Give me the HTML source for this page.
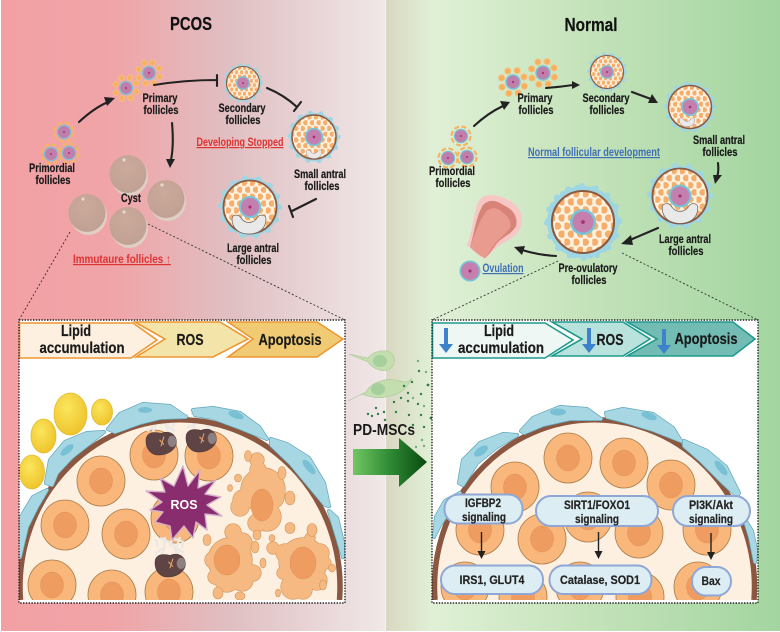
<!DOCTYPE html>
<html lang="en"><head><meta charset="utf-8"><title>PCOS vs Normal follicular development</title>
<style>
html,body{margin:0;padding:0;background:#fff;width:780px;height:632px;overflow:hidden}
svg{display:block}
text{font-family:"Liberation Sans",sans-serif;font-weight:bold;text-anchor:middle;fill:#1a1a1a}
.l{font-size:12px;stroke:#1a1a1a;stroke-width:.2}
.t{font-size:18px;fill:#111;stroke:#111;stroke-width:.2}
.c{font-size:16px;stroke:#1a1a1a;stroke-width:.2}
.b{font-size:12px;fill:#222;stroke:#222;stroke-width:.2}
.r{font-size:12px;fill:#dd3333;text-decoration:underline}
.n{font-size:12px;fill:#3f6fb5;text-decoration:underline}
.cell{fill:#f9b77c;stroke:#a87a45;stroke-width:.8}
.nuc{fill:#ee9c60;stroke:#d98c50;stroke-width:.4}
.bo{fill:#5fa6ba;stroke:#5fa6ba;stroke-width:4;stroke-linejoin:round}
.bi{fill:#a6d7e3;stroke:#a6d7e3;stroke-width:2.6;stroke-linejoin:round}
.bn{fill:#79c0d5}
.arr{fill:none;stroke:#222;stroke-width:2.1;stroke-linecap:round}
.dash{fill:none;stroke:#333;stroke-width:.9;stroke-dasharray:2 2}
.sp{fill:#f6b982;stroke:#cf965c;stroke-width:.6}
.bub{fill:#dcedf3;stroke:#8fa7d6;stroke-width:2}
</style></head><body>
<svg width="780" height="632" viewBox="0 0 780 632" xmlns="http://www.w3.org/2000/svg">
<defs>
<linearGradient id="lg"><stop offset="0" stop-color="#f2a0a4"/><stop offset=".3" stop-color="#f0a5a8"/><stop offset=".6" stop-color="#e0bfc2"/><stop offset="1" stop-color="#f0e8e8"/></linearGradient>
<linearGradient id="rg"><stop offset="0" stop-color="#dad8c2"/><stop offset=".12" stop-color="#e0f0d6"/><stop offset=".5" stop-color="#c5e3bb"/><stop offset="1" stop-color="#a3d5a0"/></linearGradient>
<linearGradient id="ag"><stop offset="0" stop-color="#72c763"/><stop offset=".5" stop-color="#2f8a35"/><stop offset="1" stop-color="#0a4a0e"/></linearGradient>
<radialGradient id="cy" cx=".45" cy=".35" r=".7"><stop offset="0" stop-color="#cbaa9c"/><stop offset="1" stop-color="#c0a092"/></radialGradient>
<radialGradient id="ye" cx=".4" cy=".35" r=".7"><stop offset="0" stop-color="#fbe65d"/><stop offset="1" stop-color="#eec22a"/></radialGradient>
<pattern id="cells" width="15" height="26" patternUnits="userSpaceOnUse">
<rect width="15" height="26" fill="#fdf3e2"/>
<circle cx="3.75" cy="6.500" r="6" fill="#f6ae6c"/><circle cx="11.25" cy="19.500" r="6" fill="#f6ae6c"/>
</pattern>
<g id="fol">
<circle r="55" fill="#9fd6e3"/>
<circle r="55" fill="none" stroke="#9fd6e3" stroke-width="11" stroke-linecap="round" stroke-dasharray="0 25"/>
<circle r="50" fill="url(#cells)" stroke="#8a5a42" stroke-width="3.400"/>
<circle r="21" fill="#76c4d6"/><circle r="17" fill="#c47fae"/><circle r="3" fill="#a23273"/>
</g>
<g id="prim">
<circle r="9.500" fill="none" stroke="#f5b560" stroke-width="2.200" stroke-dasharray="5 2.5"/>
<circle r="7.200" fill="#7cc0d6"/><circle r="6" fill="#bf7faa"/><circle r="1" fill="#a23273"/>
</g>
<g id="pri">
<g fill="#f8b060" stroke="#f3c27d" stroke-width=".8">
<circle cx="0" cy="-11" r="2.800" transform="rotate(20)"/><circle cx="0" cy="-11" r="2.800" transform="rotate(65)"/><circle cx="0" cy="-11" r="2.800" transform="rotate(110)"/><circle cx="0" cy="-11" r="2.800" transform="rotate(155)"/><circle cx="0" cy="-11" r="2.800" transform="rotate(200)"/><circle cx="0" cy="-11" r="2.800" transform="rotate(245)"/><circle cx="0" cy="-11" r="2.800" transform="rotate(290)"/><circle cx="0" cy="-11" r="2.800" transform="rotate(335)"/>
</g>
<circle r="7" fill="#7cc0d6"/><circle r="5.700" fill="#bf7faa"/><circle r="1" fill="#a23273"/>
</g>
<path id="ant" d="M-17,-5C-17,-10 -10,-10 -8,-6C-4,0 4,0 8,-6C10,-10 17,-10 17,-5C17,6 8,10 0,10C-8,10 -17,6 -17,-5Z" fill="#e9e9e9" stroke="#6f5f52" stroke-width=".7"/>
<g id="cyst">
<ellipse cx="1.500" cy="2.500" rx="18.500" ry="19.500" fill="#e0cfc5"/>
<ellipse rx="18.500" ry="19" fill="url(#cy)"/>
<circle cx="-4" cy="-14" r="1.600" fill="#e8d9d0"/>
</g>
<g id="cell"><ellipse rx="24" ry="25" class="cell"/><ellipse rx="11.500" ry="13" class="nuc"/></g>
<g id="mito">
<path d="M-12,-18l-2,-8M-6,-16l1,-12M0,-18l3,-12M6,-16l4,-12M12,-16l1,-8M-10,-27l7,3M4,-26l8,2M-8,-11l3,-9M8,-9l-4,-11M-14,-12l9,-6M14,-12l-8,-5M-3,-24l7,4" stroke="#ece8e4" stroke-width="2.400" fill="none"/>
<g transform="scale(.74,.8)">
<path d="M-20,-6C-18,-14 -8,-14 0,-12C10,-16 20,-12 21,-2C21,9 8,15 -2,15C-14,16 -22,6 -20,-6Z" fill="#5e4444" stroke="#3d2c2c" stroke-width=".6"/>
<ellipse cx="15" cy="-2" rx="6" ry="7" fill="#8d8080"/>
<path d="M-2,-4l6,6M4,-8l-4,12" stroke="#e6a56a" stroke-width="1.400" fill="none"/>
</g>
</g>
<g id="dn"><path d="M-2,0H2V16H7L0,25L-7,16H-2Z" fill="#3d82cb"/></g>
<g id="a1"><circle cx="257" cy="460" r="7"/><circle cx="258" cy="470" r="8"/><circle cx="263" cy="490" r="22"/><circle cx="243" cy="500" r="10"/><circle cx="240" cy="507" r="9"/><circle cx="272" cy="497" r="12"/><circle cx="279" cy="492" r="6"/><circle cx="267" cy="517" r="14"/><circle cx="257" cy="523" r="9"/></g>
<g id="a2"><circle cx="233" cy="532" r="8"/><circle cx="230" cy="560" r="22"/><circle cx="213" cy="560" r="8"/><circle cx="242" cy="543" r="10"/><circle cx="253" cy="573" r="8"/><circle cx="242" cy="580" r="11"/><circle cx="227" cy="580" r="12"/><circle cx="215" cy="577" r="7"/></g>
<g id="a3"><circle cx="303" cy="562" r="24"/><circle cx="273" cy="548" r="6"/><circle cx="285" cy="553" r="9"/><circle cx="310" cy="538" r="5"/><circle cx="320" cy="553" r="9"/><circle cx="325" cy="563" r="6"/><circle cx="317" cy="580" r="10"/><circle cx="293" cy="587" r="12"/><circle cx="303" cy="590" r="9"/><circle cx="283" cy="573" r="6"/></g>
<clipPath id="cl"><rect x="19" y="320" width="326" height="280"/></clipPath>
<clipPath id="cr"><rect x="432" y="320" width="326" height="280"/></clipPath>
</defs>

<rect width="780" height="632" fill="#fff"/>
<rect x="1" y="0" width="384.500" height="631" fill="url(#lg)"/>
<rect x="386" y="0" width="394" height="631" fill="url(#rg)"/>

<!-- titles -->
<text x="191" y="30" class="t" textLength="42" lengthAdjust="spacingAndGlyphs">PCOS</text>
<text x="591" y="31" class="t" textLength="53" lengthAdjust="spacingAndGlyphs">Normal</text>

<!-- PCOS follicles -->
<use href="#prim" x="64" y="132"/><use href="#prim" x="51" y="154"/><use href="#prim" x="69" y="153"/>
<use href="#pri" x="126" y="88"/><use href="#pri" x="149" y="73"/>
<use href="#fol" transform="translate(243,83) scale(.33)"/>
<use href="#fol" transform="translate(314,137) scale(.44)"/>
<use href="#ant" transform="translate(314,154) scale(.46)"/>
<use href="#fol" transform="translate(250,207) scale(.53)"/>
<use href="#ant" transform="translate(249,224) scale(1)"/>
<use href="#cyst" x="128" y="174"/><use href="#cyst" x="166" y="199"/><use href="#cyst" x="87" y="213"/><use href="#cyst" x="128" y="226"/>

<!-- PCOS connectors -->
<path class="arr" d="M79,122Q94,108 108,102"/><path d="M104,97L115,98L107,106Z" fill="#222"/>
<path class="arr" d="M154,85Q185,80 216,80M217,75V86"/>
<path class="arr" d="M267,88Q284,95 297,107M301,102L294,111"/>
<path class="arr" d="M316,199L292,211M289,206L293,217"/>
<path class="arr" d="M172,123Q174,145 171,160"/><path d="M166,159H175L170,168Z" fill="#222"/>

<!-- PCOS labels -->
<text x="160" y="102" class="l" textLength="35" lengthAdjust="spacingAndGlyphs">Primary</text>
<text x="161" y="114" class="l" textLength="35" lengthAdjust="spacingAndGlyphs">follicles</text>
<text x="242" y="112" class="l" textLength="47" lengthAdjust="spacingAndGlyphs">Secondary</text>
<text x="243" y="124" class="l" textLength="35" lengthAdjust="spacingAndGlyphs">follicles</text>
<text x="52" y="172" class="l" textLength="46" lengthAdjust="spacingAndGlyphs">Primordial</text>
<text x="53" y="184" class="l" textLength="35" lengthAdjust="spacingAndGlyphs">follicles</text>
<text x="320" y="178" class="l" textLength="52" lengthAdjust="spacingAndGlyphs">Small antral</text>
<text x="322" y="190" class="l" textLength="35" lengthAdjust="spacingAndGlyphs">follicles</text>
<text x="253" y="252" class="l" textLength="52" lengthAdjust="spacingAndGlyphs">Large antral</text>
<text x="254" y="264" class="l" textLength="35" lengthAdjust="spacingAndGlyphs">follicles</text>
<text x="131" y="202" class="l" textLength="20" lengthAdjust="spacingAndGlyphs">Cyst</text>
<text x="240" y="146" class="r" textLength="87" lengthAdjust="spacingAndGlyphs">Developing Stopped</text>
<text x="122" y="263" class="r" textLength="98" lengthAdjust="spacingAndGlyphs">Immutaure follicles  ↑</text>

<!-- Normal follicles -->
<use href="#prim" x="461" y="136"/><use href="#prim" x="448" y="158"/><use href="#prim" x="467" y="157"/>
<use href="#pri" transform="translate(513,82) scale(1.1)"/><use href="#pri" transform="translate(543,73) scale(1.1)"/>
<use href="#fol" transform="translate(607,72) scale(.33)"/>
<use href="#fol" transform="translate(690,107) scale(.43)"/>
<use href="#ant" transform="translate(687,122) scale(.46)"/>
<use href="#fol" transform="translate(680,196) scale(.55)"/>
<use href="#ant" transform="translate(680,213) scale(1.05)"/>
<circle cx="583" cy="222" r="36" fill="#9fd6e3"/>
<circle cx="583" cy="222" r="36" fill="none" stroke="#9fd6e3" stroke-width="6" stroke-linecap="round" stroke-dasharray="0 14"/>
<use href="#fol" transform="translate(583,222) scale(.62)"/>
<path d="M467,245C472,235 474,212 478,202C484,192 498,194 508,200C518,204 524,214 521,226C518,238 506,240 497,247C491,252 488,256 485,259C480,257 474,251 467,245Z" fill="#f7c7c6"/>
<path d="M470,247C474,235 476,216 483,205C490,198 498,201 505,206C514,210 518,218 516,226C512,234 504,236 497,243C492,250 489,255 485,258C480,256 474,251 470,247Z" fill="#d88378"/>
<path d="M470,247C474,238 478,222 486,212C492,206 498,208 503,213C508,216 512,222 510,228C504,236 497,240 492,248C489,253 487,256 485,258C480,256 474,251 470,247Z" fill="#ea9b8f"/>
<circle cx="470" cy="271" r="10.500" fill="#76c4d6"/><circle cx="470" cy="271" r="8.800" fill="#c47fae"/><circle cx="470" cy="271" r="1.600" fill="#a23273"/>

<!-- Normal connectors -->
<path class="arr" d="M474,126Q488,113 503,106"/><path d="M500,101L510,102L504,110Z" fill="#222"/>
<path class="arr" d="M546,88Q560,87 573,85"/><path d="M572,81L580,85L572,89Z" fill="#222"/>
<path class="arr" d="M632,92L651,99"/><path d="M652,94L658,103L648,103Z" fill="#222"/>
<path class="arr" d="M718,163Q719,172 717,177"/><path d="M713,175H722L715,184Z" fill="#222"/>
<path class="arr" d="M658,228L630,240"/><path d="M631,235L621,244L633,245Z" fill="#222"/>
<path class="arr" d="M556,256Q538,255 522,250"/><path d="M525,246L514,247L522,255Z" fill="#222"/>

<!-- Normal labels -->
<text x="535" y="102" class="l" textLength="35" lengthAdjust="spacingAndGlyphs">Primary</text>
<text x="536" y="114" class="l" textLength="35" lengthAdjust="spacingAndGlyphs">follicles</text>
<text x="606" y="102" class="l" textLength="47" lengthAdjust="spacingAndGlyphs">Secondary</text>
<text x="607" y="114" class="l" textLength="35" lengthAdjust="spacingAndGlyphs">follicles</text>
<text x="719" y="144" class="l" textLength="52" lengthAdjust="spacingAndGlyphs">Small antral</text>
<text x="720" y="156" class="l" textLength="35" lengthAdjust="spacingAndGlyphs">follicles</text>
<text x="452" y="175" class="l" textLength="46" lengthAdjust="spacingAndGlyphs">Primordial</text>
<text x="453" y="187" class="l" textLength="35" lengthAdjust="spacingAndGlyphs">follicles</text>
<text x="685" y="243" class="l" textLength="52" lengthAdjust="spacingAndGlyphs">Large antral</text>
<text x="686" y="255" class="l" textLength="35" lengthAdjust="spacingAndGlyphs">follicles</text>
<text x="588" y="272" class="l" textLength="59" lengthAdjust="spacingAndGlyphs">Pre-ovulatory</text>
<text x="589" y="284" class="l" textLength="35" lengthAdjust="spacingAndGlyphs">follicles</text>
<text x="594" y="156" class="n" textLength="132" lengthAdjust="spacingAndGlyphs">Normal follicular development</text>
<text x="503" y="272" class="n" textLength="41" lengthAdjust="spacingAndGlyphs">Ovulation</text>

<!-- dashed zoom lines -->
<path class="dash" d="M70,232L19,320M148,224L345,320M558,261L432,320M622,253L758,320"/>

<!-- LEFT INSET -->
<rect x="19" y="320" width="326" height="283" fill="#fff"/>
<g clip-path="url(#cl)">
<path d="M19.500,600A161,168 0 1 1 340.500,600Z" fill="#fdf0e1"/>
<use href="#cell" x="101" y="481"/><use href="#cell" x="65" y="525"/><use href="#cell" x="126" y="534"/>
<use href="#cell" x="154" y="455"/><use href="#cell" x="209" y="456"/><use href="#cell" x="175" y="518"/>
<use href="#cell" x="52" y="585"/><use href="#cell" x="112" y="595"/><use href="#cell" x="169" y="592"/>
<!-- apoptotic cells -->
<use href="#a1" fill="#cf965c" stroke="#cf965c" stroke-width="1.200"/><use href="#a1" fill="#f6b982"/>
<ellipse cx="262" cy="505" rx="11" ry="16" class="nuc"/>
<use href="#a2" fill="#cf965c" stroke="#cf965c" stroke-width="1.200"/><use href="#a2" fill="#f6b982"/>
<ellipse cx="227" cy="560" rx="13" ry="15" class="nuc"/>
<use href="#a3" fill="#cf965c" stroke="#cf965c" stroke-width="1.200"/><use href="#a3" fill="#f6b982"/>
<ellipse cx="303" cy="563" rx="13" ry="16" class="nuc"/>
<ellipse cx="248" cy="456" rx="3.500" ry="5.500" class="sp"/><ellipse cx="282" cy="473" rx="4" ry="6.500" class="sp"/><ellipse cx="238" cy="478" rx="3.500" ry="4" class="sp"/><ellipse cx="230" cy="488" rx="2.500" ry="3.500" class="sp"/><ellipse cx="290" cy="498" rx="5" ry="7" class="sp"/><ellipse cx="290" cy="528" rx="5" ry="5.500" class="sp"/><ellipse cx="312" cy="530" rx="5" ry="6.500" class="sp"/><ellipse cx="207" cy="540" rx="4" ry="5.500" class="sp"/><ellipse cx="257" cy="535" rx="4" ry="5" class="sp"/><ellipse cx="272" cy="538" rx="3" ry="3.500" class="sp"/><ellipse cx="255" cy="547" rx="4" ry="6" class="sp"/><ellipse cx="263" cy="563" rx="3" ry="5" class="sp"/><ellipse cx="218" cy="593" rx="5" ry="6" class="sp"/><ellipse cx="240" cy="596" rx="5" ry="4" class="sp"/><ellipse cx="332" cy="568" rx="3.500" ry="4" class="sp"/><ellipse cx="323" cy="585" rx="3.500" ry="5" class="sp"/><ellipse cx="278" cy="593" rx="2.500" ry="4" class="sp"/>
<use href="#mito" x="161" y="443"/><use href="#mito" x="201" y="440"/><use href="#mito" x="170" y="565"/>
<path d="M183,466L188,486L200,470L198,488L216,480L205,494L221,497L207,505L222,516L205,514L207,530L196,522L193,538L184,526L172,540L170,526L155,522L163,512L150,510L162,502L146,491L165,492L160,478L174,486Z" fill="#892d6f" stroke="#d5b0cb" stroke-width="1.400" stroke-linejoin="round"/>
<path d="M20.500,600A160,167 0 1 1 339.500,600" fill="none" stroke="#8b5740" stroke-width="5.500"/>
<!-- theca cells -->
<polygon class="bo" points="20,557 21,517 33,497 47,490 37,507 27,527"/><polygon class="bi" points="20,557 21,517 33,497 47,490 37,507 27,527"/>
<polygon class="bo" points="46,483 50,460 65,442 87,433 104,432 90,443 72,457 57,473 52,485"/><polygon class="bi" points="46,483 50,460 65,442 87,433 104,432 90,443 72,457 57,473 52,485"/>
<ellipse cx="67" cy="450" rx="8" ry="3.500" transform="rotate(-40 67 450)" class="bn"/>
<polygon class="bo" points="108,429 120,414 143,404 170,406 186,417 160,418 140,423 115,432"/><polygon class="bi" points="108,429 120,414 143,404 170,406 186,417 160,418 140,423 115,432"/>
<ellipse cx="145" cy="410" rx="7" ry="3" class="bn"/>
<polygon class="bo" points="193,410 213,408 240,413 259,427 267,439 240,428 213,418 195,415"/><polygon class="bi" points="193,410 213,408 240,413 259,427 267,439 240,428 213,418 195,415"/>
<ellipse cx="236" cy="415" rx="8" ry="3.500" transform="rotate(20 236 415)" class="bn"/>
<polygon class="bo" points="271,439 287,444 309,458 324,483 329,506 325,505 310,487 290,463 271,445"/><polygon class="bi" points="271,439 287,444 309,458 324,483 329,506 325,505 310,487 290,463 271,445"/>
<ellipse cx="309" cy="467" rx="9" ry="3.500" transform="rotate(50 309 467)" class="bn"/>
<polygon class="bo" points="329,511 337,518 343,543 343,557 337,537"/><polygon class="bi" points="329,511 337,518 343,543 343,557 337,537"/>
</g>
<ellipse cx="70.500" cy="414" rx="16.500" ry="21" fill="url(#ye)" stroke="#e2bb2e" stroke-width=".8"/>
<ellipse cx="43.500" cy="436" rx="12.500" ry="17" fill="url(#ye)" stroke="#e2bb2e" stroke-width=".8"/>
<ellipse cx="102" cy="412" rx="10.500" ry="13" fill="url(#ye)" stroke="#e2bb2e" stroke-width=".8"/>
<ellipse cx="32" cy="472" rx="12.500" ry="17" fill="url(#ye)" stroke="#e2bb2e" stroke-width=".8"/>
<text x="184" y="509" style="fill:#fff;font-size:13px" textLength="27" lengthAdjust="spacingAndGlyphs">ROS</text>

<!-- left chevrons -->
<path d="M228,322H317L343,339L317,357H228L253,339Z" fill="#f1cb74" stroke="#ee9630" stroke-width="1.600"/>
<path d="M135,322H220L248,339L213,357H136L165,339Z" fill="#f3e5a9" stroke="#ee9630" stroke-width="1.600"/>
<path d="M19.500,323H133L157,340L131,358H19.500Z" fill="#fdf0e0" stroke="#ee9630" stroke-width="1.600"/>
<text x="76" y="336" class="c" textLength="30" lengthAdjust="spacingAndGlyphs">Lipid</text>
<text x="82" y="353" class="c" textLength="85" lengthAdjust="spacingAndGlyphs">accumulation</text>
<text x="190" y="345" class="c" textLength="27" lengthAdjust="spacingAndGlyphs">ROS</text>
<text x="290" y="345" class="c" textLength="63" lengthAdjust="spacingAndGlyphs">Apoptosis</text>
<rect x="19" y="320" width="326" height="283" fill="none" stroke="#222" stroke-width="1.400" stroke-dasharray="1.4 1.4"/>

<!-- MIDDLE -->
<path d="M349,354L368,358C372,352 382,349 390,352C396,356 396,366 388,370C380,372 372,368 368,362Z" fill="#c5deb0" stroke="#a8c796" stroke-width=".6"/>
<ellipse cx="380" cy="361" rx="7" ry="6" fill="#a5cf9d"/>
<path d="M348,401L366,392C370,384 382,378 395,380C402,382 408,384 412,378C408,386 402,394 390,396C378,400 368,396 362,394Z" fill="#c5deb0" stroke="#a8c796" stroke-width=".6"/>
<ellipse cx="378" cy="389" rx="7" ry="6" fill="#a5cf9d"/>
<g fill="#2f7f45">
<circle cx="376" cy="408" r="1.200"/><circle cx="368" cy="414" r="1.200"/><circle cx="378" cy="414" r="1.200"/><circle cx="384" cy="412" r="1.200"/><circle cx="372" cy="416" r="1.200"/><circle cx="385" cy="420" r="1.200"/><circle cx="394" cy="402" r="1.200"/><circle cx="396" cy="412" r="1.200"/><circle cx="401" cy="398" r="1.200"/><circle cx="408" cy="401" r="1.200"/><circle cx="419" cy="371" r="1.200"/><circle cx="412" cy="382" r="1.200"/><circle cx="404" cy="386" r="1.200"/><circle cx="408" cy="393" r="1.200"/><circle cx="421" cy="394" r="1.200"/><circle cx="418" cy="404" r="1.200"/><circle cx="428" cy="385" r="1.400"/><circle cx="431" cy="418" r="1.400"/><circle cx="421" cy="415" r="1.200"/><circle cx="409" cy="415" r="1.200"/><circle cx="413" cy="425" r="1.200"/><circle cx="424" cy="427" r="1.200"/>
</g>
<g fill="#6fb07f"><circle cx="418" cy="361" r="1.200"/><circle cx="426" cy="372" r="1.200"/><circle cx="413" cy="398" r="1.200"/><circle cx="424" cy="406" r="1.200"/><circle cx="422" cy="440" r="1.200"/><circle cx="424" cy="446" r="1.200"/><circle cx="416" cy="447" r="1.200"/></g>
<text x="384" y="435" style="font-size:16px" textLength="62" lengthAdjust="spacingAndGlyphs">PD-MSCs</text>
<path d="M353,449H399V438L427,462L399,487V475H353Z" fill="url(#ag)"/>

<!-- RIGHT INSET -->
<rect x="432" y="320" width="326" height="283" fill="#fff"/>
<g clip-path="url(#cr)">
<path d="M434,600A161,168 0 1 1 755,600Z" fill="#fdf0e1"/>
<use href="#cell" x="568" y="458"/><use href="#cell" x="624" y="463"/><use href="#cell" x="515" y="487"/><use href="#cell" x="671" y="485"/>
<use href="#cell" x="480" y="530"/><use href="#cell" x="542" y="539"/><use href="#cell" x="588" y="517"/><use href="#cell" x="639" y="533"/><use href="#cell" x="707" y="530"/>
<use href="#cell" x="465" y="587"/><use href="#cell" x="523" y="597"/><use href="#cell" x="580" y="587"/><use href="#cell" x="640" y="597"/><use href="#cell" x="698" y="587"/>
<path d="M435,600A160,167 0 1 1 754,600" fill="none" stroke="#8b5740" stroke-width="5.500"/>
<polygon class="bo" points="434,537 436,517 445,501 460,493 450,510 440,525"/><polygon class="bi" points="434,537 436,517 445,501 460,493 450,510 440,525"/>
<polygon class="bo" points="459,483 463,460 480,443 503,434 517,435 497,447 477,463 463,485"/><polygon class="bi" points="459,483 463,460 480,443 503,434 517,435 497,447 477,463 463,485"/>
<ellipse cx="481" cy="451" rx="8" ry="4" transform="rotate(-35 481 451)" class="bn"/>
<polygon class="bo" points="521,431 533,418 560,407 587,409 601,419 570,419 543,425 524,433"/><polygon class="bi" points="521,431 533,418 560,407 587,409 601,419 570,419 543,425 524,433"/>
<ellipse cx="558" cy="412" rx="8" ry="3.500" class="bn"/>
<polygon class="bo" points="606,413 623,409 653,414 673,428 681,441 653,430 623,421 607,417"/><polygon class="bi" points="606,413 623,409 653,414 673,428 681,441 653,430 623,421 607,417"/>
<ellipse cx="649" cy="416" rx="8" ry="3.500" transform="rotate(20 649 416)" class="bn"/>
<polygon class="bo" points="684,441 707,451 726,467 739,493 737,496 720,480 700,460 684,446"/><polygon class="bi" points="684,441 707,451 726,467 739,493 737,496 720,480 700,460 684,446"/>
<ellipse cx="721" cy="468" rx="9" ry="3.500" transform="rotate(50 721 468)" class="bn"/>
<polygon class="bo" points="744,518 752,531 756,550 755,562 750,537"/><polygon class="bi" points="744,518 752,531 756,550 755,562 750,537"/>
</g>
<!-- signalling bubbles -->
<rect x="444.500" y="494.500" width="78" height="29" rx="14" class="bub"/>
<rect x="536" y="496" width="122" height="30" rx="15" class="bub"/>
<rect x="673" y="496" width="77" height="30" rx="15" class="bub"/>
<rect x="441" y="565.500" width="102" height="28.500" rx="14" class="bub"/>
<rect x="549.500" y="565.500" width="102" height="28.500" rx="14" class="bub"/>
<rect x="692" y="567" width="39" height="28.500" rx="14" class="bub"/>
<text x="483" y="507" class="b" textLength="36" lengthAdjust="spacingAndGlyphs">IGFBP2</text>
<text x="484" y="521" class="b" textLength="44" lengthAdjust="spacingAndGlyphs">signaling</text>
<text x="597" y="509" class="b" textLength="66" lengthAdjust="spacingAndGlyphs">SIRT1/FOXO1</text>
<text x="597" y="523" class="b" textLength="44" lengthAdjust="spacingAndGlyphs">signaling</text>
<text x="711" y="509" class="b" textLength="44" lengthAdjust="spacingAndGlyphs">PI3K/Akt</text>
<text x="711" y="523" class="b" textLength="44" lengthAdjust="spacingAndGlyphs">signaling</text>
<text x="492" y="584" class="b" textLength="65" lengthAdjust="spacingAndGlyphs">IRS1, GLUT4</text>
<text x="600" y="584" class="b" textLength="80" lengthAdjust="spacingAndGlyphs">Catalase, SOD1</text>
<text x="711" y="585" class="b" textLength="19" lengthAdjust="spacingAndGlyphs">Bax</text>
<path d="M481.500,532V553M598.500,532V553M711,533V553" stroke="#222" stroke-width="1.400" fill="none"/>
<path d="M477.500,551H485.500L481.500,559ZM594.500,551H602.500L598.500,559ZM707,552H715L711,560Z" fill="#222"/>

<!-- right chevrons -->
<path d="M627,322H733L755,339L733,356H627L657,339Z" fill="#72bcb4" stroke="#1e9a8e" stroke-width="1.600"/>
<path d="M552,322H623L650,339L623,356H552L582,339Z" fill="#b9e2dc" stroke="#1e9a8e" stroke-width="1.600"/>
<path d="M432.500,323H545L573,340L545,358H432.500Z" fill="#eef7f4" stroke="#1e9a8e" stroke-width="1.600"/>
<use href="#dn" x="446" y="328"/><use href="#dn" x="589" y="328"/><use href="#dn" x="664" y="329"/>
<text x="499" y="336" class="c" textLength="30" lengthAdjust="spacingAndGlyphs">Lipid</text>
<text x="501" y="353" class="c" textLength="86" lengthAdjust="spacingAndGlyphs">accumulation</text>
<text x="610" y="345" class="c" textLength="27" lengthAdjust="spacingAndGlyphs">ROS</text>
<text x="706" y="344" class="c" textLength="63" lengthAdjust="spacingAndGlyphs">Apoptosis</text>
<rect x="432" y="320" width="326" height="283" fill="none" stroke="#222" stroke-width="1.400" stroke-dasharray="1.4 1.4"/>
</svg>
</body></html>
